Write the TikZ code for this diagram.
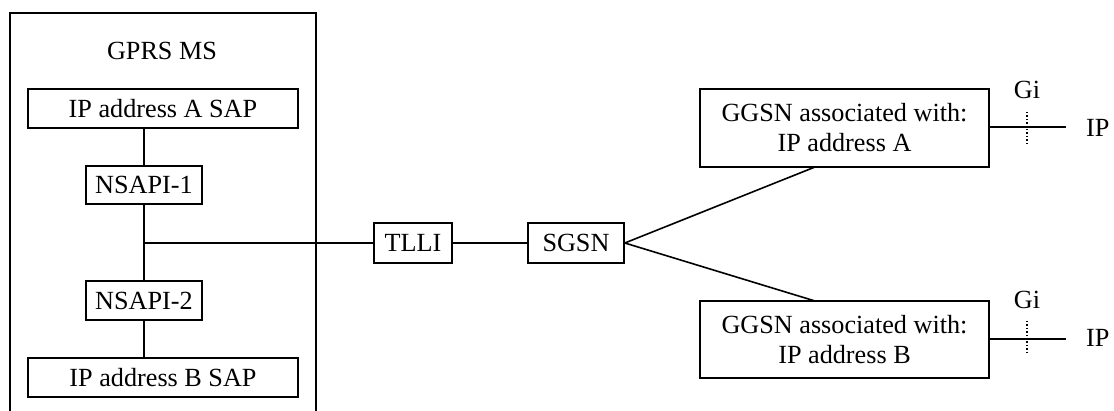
\documentclass[tikz,border=0pt]{standalone}
\usepackage{fontspec}
\setmainfont{Liberation Serif}
\begin{document}
\begin{tikzpicture}[x=1pt,y=-1pt,
  every node/.style={font=\fontsize{26.2}{30}\selectfont, inner sep=0pt},
  box/.style={draw, line width=1.6pt, align=center},
  ln/.style={line width=1.6pt},
  dot/.style={line width=1.4pt, dotted}]
\useasboundingbox (0,0) rectangle (1114,411);
% outer MS box
\draw[ln] (10,415) -- (10,13) -- (316,13) -- (316,415);
\node (gprs) at (162,51) {GPRS MS};
\node[box, minimum width=270pt, minimum height=39pt] (sapA) at (163,108.5) {IP address A SAP};
\node[box, minimum width=116pt, minimum height=38pt] (ns1) at (144,185) {NSAPI-1};
\node[box, minimum width=116pt, minimum height=39pt] (ns2) at (144,300.5) {NSAPI-2};
\node[box, minimum width=270pt, minimum height=39pt] (sapB) at (163,377.5) {IP address B SAP};
\coordinate (junc) at (144,243);
\node[box, minimum width=78pt, minimum height=40pt] (tlli) at (413,243) {TLLI};
\node[box, minimum width=96pt, minimum height=40pt] (sgsn) at (576,243) {SGSN};
\node[box, minimum width=289pt, minimum height=78pt] (ggA) at (844.5,128) {GGSN associated with:\\IP address A};
\node[box, minimum width=289pt, minimum height=77pt] (ggB) at (844.5,339.5) {GGSN associated with:\\IP address B};
% MS internal
\draw[ln] (sapA.south -| ns1) -- (ns1.north);
\draw[ln] (ns1.south) -- (ns2.north);
\draw[ln] (ns2.south) -- (sapB.north -| ns2);
\draw[ln] (junc) -- (tlli.west);
\draw[ln] (tlli.east) -- (sgsn.west);
\coordinate (ggAb) at (815,167);
\coordinate (ggBt) at (815,301);
\draw[ln] (sgsn.east) -- (ggAb);
\draw[ln] (sgsn.east) -- (ggBt);
% Gi interfaces
\coordinate (ipAend) at (1066,127);
\coordinate (ipBend) at (1066,339);
\draw[ln] (ggA.east |- ipAend) -- (ipAend);
\draw[ln] (ggB.east |- ipBend) -- (ipBend);
\coordinate (dA1) at (1027,112); \coordinate (dA2) at (1027,143);
\coordinate (dB1) at (1027,321); \coordinate (dB2) at (1027,354);
\draw[dot] (dA1) -- (dA2);
\draw[dot] (dB1) -- (dB2);
\node (giA) at (1027,90) {Gi};
\node (giB) at (1027,300) {Gi};
\node[anchor=west] (ipA) at (1086,128) {IP};
\node[anchor=west] (ipB) at (1086,338) {IP};
\end{tikzpicture}
\end{document}
